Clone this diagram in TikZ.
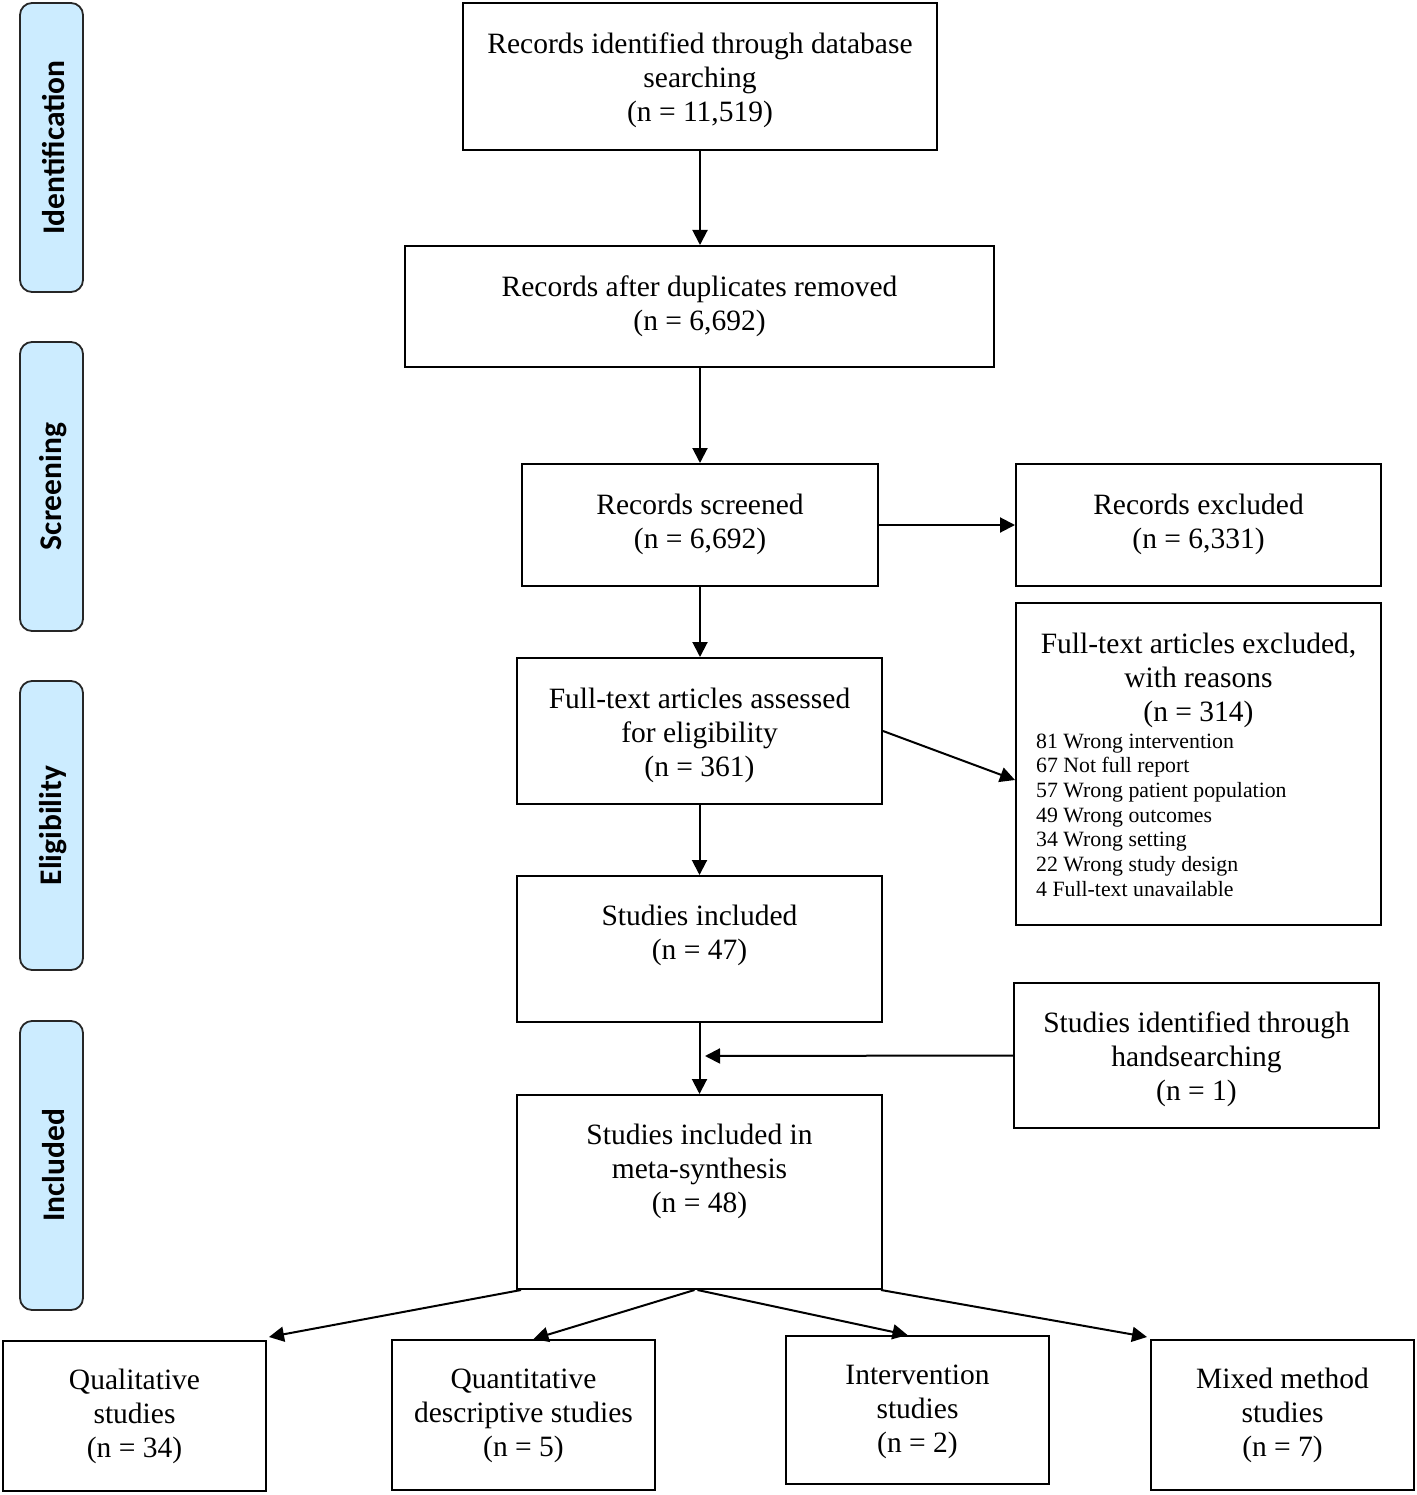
\documentclass[tikz,border=0pt]{standalone}
\usepackage{fontspec}
\setmainfont{Liberation Serif}
\newfontfamily\sidefont{Carlito}
\usetikzlibrary{arrows.meta}
\definecolor{sideblue}{RGB}{204,236,255}
\tikzset{
  box/.style={draw=black, line width=2pt, fill=white, inner sep=0pt},
  txt/.style={inner sep=0pt, align=center, font=\fontsize{29.5}{34}\selectfont},
  listtxt/.style={inner sep=0pt, align=left, font=\fontsize{21.8}{24.7}\selectfont},
  side/.style={draw=black!85, line width=1.8pt, fill=sideblue, rounded corners=12pt, minimum width=63pt, minimum height=289pt, inner sep=0pt},
  sidetxt/.style={rotate=90, inner sep=0pt, font=\sidefont\bfseries\fontsize{31.5}{36}\selectfont},
  arr/.style={line width=2pt, -{Triangle[length=15pt,width=15pt]}}
}
\begin{document}
\begin{tikzpicture}[x=1pt,y=-1pt]
\useasboundingbox (0,0) rectangle (1416,1495);
% side labels
\node[side] (s1) at (51.5,147.5) {};
\node[sidetxt] (s1t) at ([xshift=2pt]s1.center) {Identification};
\node[side] (s2) at (51.5,486.5) {};
\node[sidetxt] (s2t) at ([xshift=2pt]s2.center) {Screening};
\node[side] (s3) at (51.5,825.5) {};
\node[sidetxt] (s3t) at ([xshift=2pt]s3.center) {Eligibility};
\node[side] (s4) at (51.5,1165.5) {};
\node[sidetxt] (s4t) at ([xshift=2pt]s4.center) {Included};
% main boxes
\node[box, minimum width=474pt, minimum height=147pt] (b1) at (700,76.5) {};
\node[txt] (b1t) at (700,80) {Records identified through database\\searching\\(n = 11,519)};
\node[box, minimum width=589pt, minimum height=121pt] (b2) at (699.5,306.5) {};
\node[txt] (b2t) at (699.5,306) {Records after duplicates removed\\(n = 6,692)};
\node[box, minimum width=356pt, minimum height=122pt] (b3) at (700,525) {};
\node[txt] (b3t) at (700,524) {Records screened\\(n = 6,692)};
\node[box, minimum width=365pt, minimum height=122pt] (ex) at (1198.5,525) {};
\node[txt] (ext) at (1198.5,524) {Records excluded\\(n = 6,331)};
\node[box, minimum width=365pt, minimum height=146pt] (ft) at (699.5,731) {};
\node[txt] (ftt) at (699.5,735) {Full-text articles assessed\\for eligibility\\(n = 361)};
\node[box, minimum width=365pt, minimum height=322pt] (rs) at (1198.5,764) {};
\node[txt] (rst) at (1198.5,680) {Full-text articles excluded,\\with reasons\\(n = 314)};
\node[listtxt, anchor=west] (rsl) at (1036,815) {81 Wrong intervention\\67 Not full report\\57 Wrong patient population\\49 Wrong outcomes\\34 Wrong setting\\22 Wrong study design\\4 Full-text unavailable};
\node[box, minimum width=365pt, minimum height=146pt] (si) at (699.5,949) {};
\node[txt] (sit) at (699.5,935) {Studies included\\(n = 47)};
\node[box, minimum width=365pt, minimum height=145pt] (hs) at (1196.5,1055.5) {};
\node[txt] (hst) at (1196.5,1059) {Studies identified through\\handsearching\\(n = 1)};
\node[box, minimum width=365pt, minimum height=194pt] (ms) at (699.5,1192) {};
\node[txt] (mst) at (699.5,1171) {Studies included in\\meta-synthesis\\(n = 48)};
% bottom boxes
\node[box, minimum width=263pt, minimum height=150pt] (q1) at (134.5,1416) {};
\node[txt] (q1t) at (134.5,1416.5) {Qualitative\\studies\\(n = 34)};
\node[box, minimum width=263pt, minimum height=150pt] (q2) at (523.5,1415) {};
\node[txt] (q2t) at (523.5,1415.5) {Quantitative\\descriptive studies\\(n = 5)};
\node[box, minimum width=263pt, minimum height=148pt] (q3) at (917.5,1410) {};
\node[txt] (q3t) at (917.5,1411.5) {Intervention\\studies\\(n = 2)};
\node[box, minimum width=263pt, minimum height=150pt] (q4) at (1282.5,1415) {};
\node[txt] (q4t) at (1282.5,1415.5) {Mixed method\\studies\\(n = 7)};
% connectors
\draw[arr] (b1.south) -- (b1.south |- b2.north);
\draw[arr] (b2.south -| b3.north) -- (b3.north);
\draw[arr] (b3.east) -- (ex.west);
\draw[arr] (b3.south) -- (b3.south |- ft.north);
\draw[arr] (ft.east) -- ([yshift=-16pt]rs.west);
\draw[arr] (ft.south) -- (si.north);
\draw[arr] (si.south) -- (ms.north);
\coordinate (hsend) at (705,1056);
\draw[arr] (hs.west) -- (hsend);
\draw[arr] ([xshift=5pt]ms.south west) -- ([xshift=2pt,yshift=3pt]q1.north east);
\draw[arr] ([xshift=-5pt]ms.south) -- ([xshift=10pt]q2.north);
\draw[arr] ([xshift=-2pt]ms.south) -- ([xshift=-10pt]q3.north);
\draw[arr] ([xshift=-2pt]ms.south east) -- ([xshift=-3pt,yshift=2pt]q4.north west);
\end{tikzpicture}
\end{document}
